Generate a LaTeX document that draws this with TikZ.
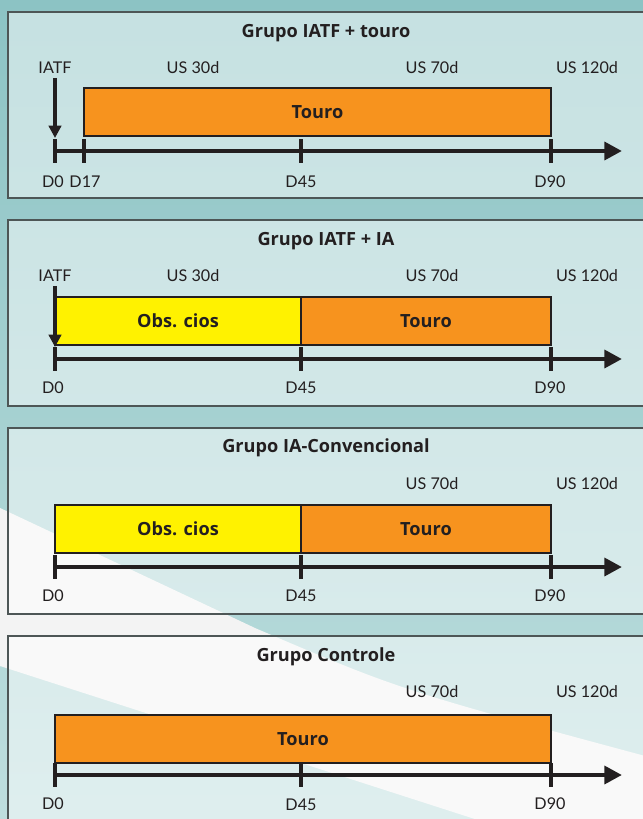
\documentclass[tikz,border=0pt]{standalone}
\usepackage{fontspec}
\setmainfont{Lato}
\newfontfamily\headfont{Open Sans}
\usetikzlibrary{positioning}
\usetikzlibrary{arrows.meta}

\definecolor{bgtop}{HTML}{8CC3C4}
\definecolor{bgbottom}{HTML}{BEDEDE}
\definecolor{swoosh}{HTML}{F3F3F3}
\definecolor{frameline}{HTML}{4D5656}
\definecolor{ink}{HTML}{231F20}
\definecolor{bullorange}{HTML}{F7931E}
\definecolor{obsyellow}{HTML}{FFF200}

\tikzset{
  panel/.style={draw=frameline, line width=1.4pt, fill=white, fill opacity=0.5},
  title/.style={font=\headfont\bfseries\fontsize{15.5}{18}\selectfont, text=ink},
  lbl/.style={font=\fontsize{13.8}{16}\selectfont, text=ink},
  bar/.style={draw=ink, line width=1pt, inner sep=0pt, minimum height=14.4mm,
              font=\headfont\bfseries\fontsize{15.5}{18}\selectfont, text=ink},
  axis/.style={draw=ink, line width=3.8pt, -{Triangle[length=15pt,width=15pt]}},
  tickmark/.style={draw=ink, line width=2.8pt},
  insem/.style={draw=ink, line width=2.7pt, -{Triangle[length=10.5pt,width=10.5pt]}}
}

\begin{document}
\begin{tikzpicture}[x=0.3mm, y=-0.3mm]
  \useasboundingbox (0,0) rectangle (643,819);
  \clip (0,0) rectangle (643,819);

  % background
  \shade[top color=bgtop, bottom color=bgbottom] (0,0) rectangle (643,819);
  \fill[swoosh] (0,508) -- (255,628) .. controls (400,690) .. (660,760)
    -- (660,840) -- (540,840) -- (0,666) -- cycle;

  % Grupo IATF + touro
  \draw[panel] (8,12) rectangle (660,198);
  \node[title] (t1) at (326,33) {Grupo IATF + touro};
  \node[lbl] (iatf1) at (55,68) {IATF};
  \node[lbl] (us30a) at (193,68) {US 30d};
  \node[lbl] (us70a) at (432,68) {US 70d};
  \node[lbl] (us120a) at (587,68) {US 120d};
  \node[bar, fill=bullorange, minimum width=140.1mm] (touro1) at (317.5,112) {Touro};
  \coordinate (o1) at (55,151);
  \coordinate (e1) at (622,151);
  \coordinate (s1) at (55,138);
  \draw[axis] (o1) -- (e1);
  \draw[tickmark] (55,139) -- (55,163);
  \draw[tickmark] (84,139) -- (84,163);
  \draw[tickmark] (301,139) -- (301,163);
  \draw[tickmark] (551,139) -- (551,163);
  \draw[insem] (iatf1.south) -- (s1);
  \node[lbl] (d0a) at (53,182) {D0};
  \node[lbl] (d17a) at (85,182) {D17};
  \node[lbl] (d45a) at (301,182) {D45};
  \node[lbl] (d90a) at (550,182) {D90};

  % Grupo IATF + IA
  \begin{scope}[shift={(0,208)}]
    \draw[panel] (8,12) rectangle (660,198);
    \node[title] (t2) at (326,33) {Grupo IATF + IA};
    \node[lbl] (iatf2) at (55,68) {IATF};
    \node[lbl] (us30b) at (193,68) {US 30d};
    \node[lbl] (us70b) at (432,68) {US 70d};
    \node[lbl] (us120b) at (587,68) {US 120d};
    \node[bar, fill=obsyellow, minimum width=73.8mm] (obs2) at (178,113) {Obs. cios};
    \node[bar, fill=bullorange, minimum width=75mm] (touro2) at (426,113) {Touro};
    \coordinate (o2) at (55,151);
    \coordinate (e2) at (622,151);
    \coordinate (s2) at (55,139);
    \draw[axis] (o2) -- (e2);
    \draw[tickmark] (55,139) -- (55,163);
    \draw[tickmark] (301,139) -- (301,163);
    \draw[tickmark] (551,139) -- (551,163);
    \draw[insem] (iatf2.south) -- (s2);
    \node[lbl] (d0b) at (53,180) {D0};
    \node[lbl] (d45b) at (301,180) {D45};
    \node[lbl] (d90b) at (550,180) {D90};
  \end{scope}

  % Grupo IA-Convencional
  \begin{scope}[shift={(0,416)}]
    \draw[panel] (8,12) rectangle (660,198);
    \node[title] (t3) at (326,32) {Grupo IA-Convencional};
    \node[lbl] (us70c) at (432,68) {US 70d};
    \node[lbl] (us120c) at (587,68) {US 120d};
    \node[bar, fill=obsyellow, minimum width=73.8mm] (obs3) at (178,113) {Obs. cios};
    \node[bar, fill=bullorange, minimum width=75mm] (touro3) at (426,113) {Touro};
    \coordinate (o3) at (55,151);
    \coordinate (e3) at (622,151);
    \draw[axis] (o3) -- (e3);
    \draw[tickmark] (55,139) -- (55,163);
    \draw[tickmark] (301,139) -- (301,163);
    \draw[tickmark] (551,139) -- (551,163);
    \node[lbl] (d0c) at (53,180) {D0};
    \node[lbl] (d45c) at (301,180) {D45};
    \node[lbl] (d90c) at (550,180) {D90};
  \end{scope}

  % Grupo Controle
  \begin{scope}[shift={(0,624)}]
    \draw[panel] (8,12) rectangle (660,230);
    \node[title] (t4) at (326,33) {Grupo Controle};
    \node[lbl] (us70d) at (432,68) {US 70d};
    \node[lbl] (us120d) at (587,68) {US 120d};
    \node[bar, fill=bullorange, minimum width=148.8mm] (touro4) at (303,115) {Touro};
    \coordinate (o4) at (55,151);
    \coordinate (e4) at (622,151);
    \draw[axis] (o4) -- (e4);
    \draw[tickmark] (55,139) -- (55,163);
    \draw[tickmark] (301,139) -- (301,163);
    \draw[tickmark] (551,139) -- (551,163);
    \node[lbl] (d0d) at (53,180) {D0};
    \node[lbl] (d45d) at (301,181) {D45};
    \node[lbl] (d90d) at (550,180) {D90};
  \end{scope}
\end{tikzpicture}
\end{document}
